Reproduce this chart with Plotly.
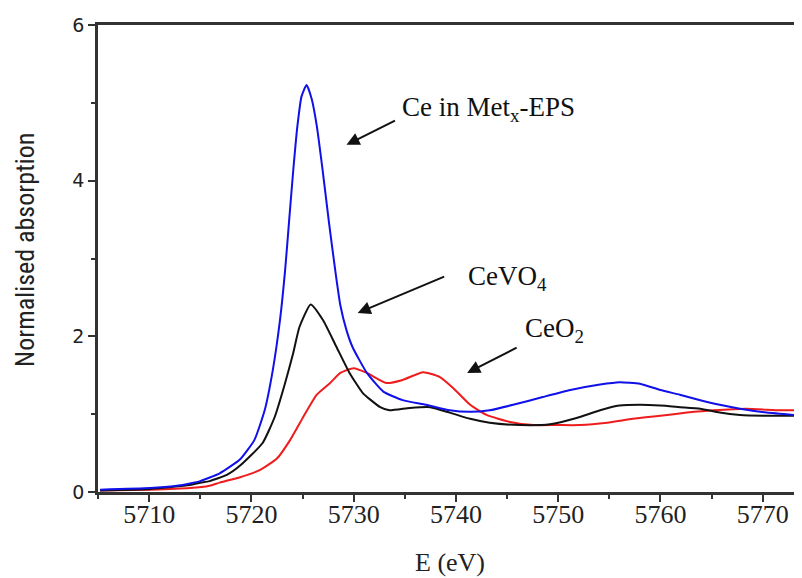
import plotly.graph_objects as go

# ---- data ----
e_metx = [5705.2, 5710.1, 5712.7, 5714.0, 5715.0, 5716.9, 5718.9, 5720.3,
          5721.3, 5722.1, 5722.8, 5723.3, 5723.7, 5724.1, 5724.5, 5724.9, 5725.4, 5725.9,
          5726.4, 5727.0, 5727.6, 5728.2, 5728.7, 5729.3, 5729.9, 5731.3, 5732.9, 5734.8,
          5737.1, 5739.4, 5741.4, 5743.3, 5745.6, 5748.5, 5751.2, 5754.1, 5756.0, 5758.0,
          5760.0, 5761.9, 5763.9, 5765.8, 5767.8, 5770.4, 5773.9]
abs_metx = [0.03, 0.05, 0.08, 0.11, 0.14, 0.24, 0.42, 0.67,
            1.05, 1.57, 2.21, 2.85, 3.50, 4.14, 4.70, 5.08, 5.23, 5.05,
            4.70, 4.10, 3.45, 2.85, 2.40, 2.08, 1.86, 1.53, 1.29, 1.18,
            1.12, 1.05, 1.03, 1.05, 1.12, 1.22, 1.31, 1.38, 1.41, 1.39,
            1.31, 1.25, 1.18, 1.12, 1.07, 1.02, 0.98]

e_cevo4 = [5705.2, 5710.1, 5714.0, 5715.0, 5715.9, 5717.6, 5718.9, 5721.1, 5722.3,
           5723.3, 5724.1, 5724.7, 5725.8, 5727.0, 5728.3, 5729.6, 5730.9,
           5731.6, 5732.6, 5733.5, 5735.5, 5737.5, 5739.4, 5741.4, 5743.3, 5746.3, 5749.2,
           5751.8, 5754.1, 5756.0, 5758.0, 5760.0, 5761.9, 5763.9, 5765.8, 5767.8, 5770.4,
           5773.9]
abs_cevo4 = [0.02, 0.04, 0.09, 0.12, 0.14, 0.22, 0.34, 0.63, 0.97,
             1.40, 1.79, 2.12, 2.41, 2.21, 1.87, 1.53, 1.27,
             1.19, 1.09, 1.05, 1.08, 1.09, 1.02, 0.94, 0.89, 0.86, 0.87,
             0.95, 1.05, 1.11, 1.12, 1.11, 1.09, 1.07, 1.02, 0.99, 0.98,
             0.98]

e_ceo2 = [5705.2, 5710.1, 5714.0, 5715.9, 5716.9, 5718.9, 5720.8, 5722.5, 5723.8,
          5725.1, 5726.4, 5727.7, 5728.7, 5730.0, 5731.3, 5733.2, 5734.8, 5736.8, 5738.4,
          5739.7, 5741.4, 5743.0, 5745.3, 5747.6, 5749.9, 5752.1, 5754.8, 5757.3, 5760.0,
          5762.6, 5765.2, 5768.4, 5771.7, 5773.9]
abs_ceo2 = [0.02, 0.03, 0.05, 0.08, 0.12, 0.19, 0.28, 0.43, 0.67,
            0.97, 1.25, 1.40, 1.53, 1.59, 1.53, 1.40, 1.44, 1.54, 1.48,
            1.34, 1.12, 0.99, 0.90, 0.86, 0.86, 0.86, 0.89, 0.94, 0.98,
            1.02, 1.05, 1.07, 1.05, 1.05]

x_ticks = [5710, 5720, 5730, 5740, 5750, 5760, 5770]
y_ticks = [0, 2, 4, 6]

labels = ["Ce in Met<sub>x</sub>-EPS", "CeVO<sub>4</sub>", "CeO<sub>2</sub>"]
label_pos = [(5734.5, 4.92), (5741.0, 2.75), (5746.6, 2.08)]
arrow_heads = [(5729.3, 4.46), (5730.4, 2.30), (5741.1, 1.53)]
arrow_tails_px = [(50, -25), (88, -37), (51, -26)]

fig = go.Figure()
for xs, ys, col, name in [(e_ceo2, abs_ceo2, "#ee1c1c", "CeO2"),
                          (e_cevo4, abs_cevo4, "#111111", "CeVO4"),
                          (e_metx, abs_metx, "#1010e8", "Ce in Metx-EPS")]:
    fig.add_trace(go.Scatter(x=xs, y=ys, mode="lines", name=name,
                             line=dict(color=col, width=2, shape="spline", smoothing=0.5)))

axis_common = dict(showgrid=False, zeroline=False, showline=True, linewidth=2.5,
                   linecolor="#333333", ticks="outside", tickwidth=2, tickcolor="#333333",
                   ticklen=7)

serif = "Liberation Serif, Times New Roman, serif"

fig.update_xaxes(range=[5705, 5773.85], tickvals=x_ticks, mirror=True,
                 tickfont=dict(family=serif, size=26, color="#222222"),
                 ticklabelstandoff=-10,
                 minor=dict(dtick=5, tick0=5705, ticks="outside", ticklen=4, tickwidth=2,
                            tickcolor="#333333", showgrid=False),
                 **axis_common)
fig.update_yaxes(range=[0, 6], tickvals=y_ticks, mirror=False,
                 tickfont=dict(family="DejaVu Sans, Verdana, sans-serif", size=19, color="#222222"),
                 minor=dict(dtick=1, tick0=0, ticks="outside", ticklen=4, tickwidth=2,
                            tickcolor="#333333", showgrid=False),
                 **axis_common)

annotations = []
for (hx, hy), (ax, ay) in zip(arrow_heads, arrow_tails_px):
    annotations.append(dict(x=hx, y=hy, xref="x", yref="y", ax=ax, ay=ay, text="",
                            showarrow=True, arrowhead=2, arrowsize=1.3, arrowwidth=2,
                            arrowcolor="#111111"))
for txt, (tx, ty) in zip(labels, label_pos):
    annotations.append(dict(x=tx, y=ty, xref="x", yref="y", text=txt, showarrow=False,
                            xanchor="left", yanchor="middle",
                            font=dict(family=serif, size=27, color="#111111")))
annotations.append(dict(x=0.5, y=-0.15, xref="paper", yref="paper", text="E (eV)",
                        showarrow=False, xanchor="center", yanchor="middle",
                        font=dict(family=serif, size=26, color="#222222")))
annotations.append(dict(x=-0.104, y=0.518, xref="paper", yref="paper",
                        text="Normalised absorption", textangle=-90, showarrow=False,
                        xanchor="center", yanchor="middle",
                        font=dict(family="Liberation Sans Narrow, Roboto Condensed, Arial Narrow, sans-serif",
                                  size=26, color="#222222")))

# page body has an 8px margin: size the figure so it fits the 802x578 window
fig.update_layout(width=794, height=570, margin=dict(l=90, r=0, t=17, b=86),
                  paper_bgcolor="white", plot_bgcolor="white", showlegend=False,
                  annotations=annotations)

fig.write_html("out.html")
